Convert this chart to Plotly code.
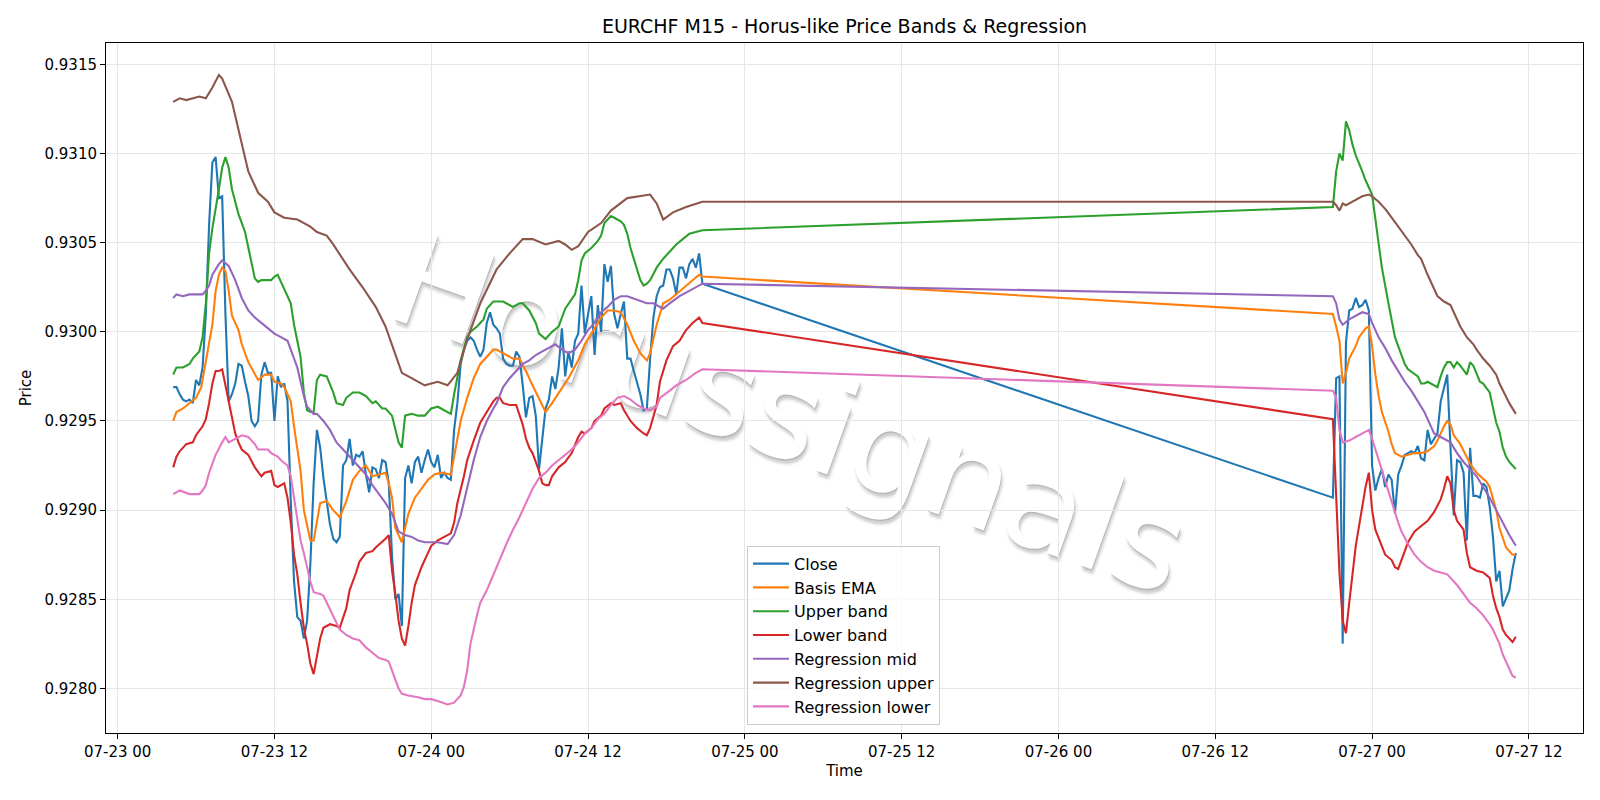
import pandas as pd
import plotly.graph_objects as go

BASE = pd.Timestamp("2025-07-23 00:00")

# Close, 15-minute bars: session 1 starts 07-23 04:15, session 2 starts 07-26 21:00
close_s1_start = "2025-07-23 04:15"
close_s1 = [
    .92969, .92969, .92965, .92962,
    .92961, .92962, .92960, .92973,
    .92970, .92980, .93010, .93060,
    .93095, .93098, .93075, .93076,
    .93010, .92961, .92965, .92971,
    .92982, .92981, .92972, .92964,
    .92950, .92947, .92950, .92976,
    .92983, .92977, .92977, .92950,
    .92975, .92969, .92971, .92961,
    .92905, .92860, .92840, .92838,
    .92828, .92838, .92870, .92915,
    .92945, .92935, .92918, .92905,
    .92892, .92884, .92882, .92885,
    .92925, .92928, .92940, .92925,
    .92931, .92930, .92933, .92920,
    .92910, .92924, .92923, .92918,
    .92928, .92927, .92915, .92874,
    .92850, .92853, .92835, .92918,
    .92925, .92915, .92927, .92930,
    .92921, .92928, .92934, .92927,
    .92924, .92931, .92918, .92921,
    .92918, .92917, .92945, .92960,
    .92982, .92990, .92995, .92997,
    .92995, .92990, .92986, .92990,
    .93005, .93011, .93004, .93002,
    .92999, .92985, .92982, .92981,
    .92981, .92989, .92986, .92970,
    .92952, .92963, .92964, .92953,
    .92923, .92940, .92957, .92962,
    .92975, .92968, .92980, .93002,
    .92975, .92989, .92980, .92995,
    .92999, .93026, .92999, .93010,
    .93020, .92987, .93015, .93000,
    .93038, .93028, .93037, .93010,
    .93002, .93010, .93017, .92985,
    .92985, .92978, .92972, .92965,
    .92956, .92957, .92985, .93008,
    .93020, .93025, .93026, .93035,
    .93035, .93030, .93021, .93036,
    .93036, .93030, .93038, .93041,
    .93036, .93044, .93027,
]
close_s2_start = "2025-07-26 21:00"
close_s2 = [
    .92907, .92974, .92975, .92825,
    .92994, .93012, .93013, .93019,
    .93014, .93015, .93018, .93012,
    .92925, .92911, .92918, .92923,
    .92913, .92920, .92917, .92898,
    .92920, .92925, .92931, .92932,
    .92933, .92932, .92936, .92929,
    .92928, .92945, .92937, .92940,
    .92943, .92961, .92968, .92976,
    .92935, .92897, .92928, .92927,
    .92921, .92883, .92935, .92908,
    .92908, .92907, .92915, .92913,
    .92902, .92885, .92860, .92866,
    .92846, .92851, .92855, .92867,
    .92876,
]

# (hours after 07-23 00:00, value)
basis_ema = [
    (4.25, .92950), (4.5, .92955), (5.0, .92957), (5.5, .92960), (6.0, .92963), (6.4, .92969),
    (6.75, .92983), (7.25, .93004), (7.5, .93023), (7.75, .93032), (8.0, .93036), (8.25, .93034),
    (8.5, .93023), (8.75, .93009), (9.25, .93001), (9.5, .92993), (10.0, .92983), (10.5, .92976),
    (10.75, .92973), (11.25, .92976), (11.75, .92976), (12.0, .92972), (12.5, .92971), (12.75, .92969),
    (13.25, .92961), (13.5, .92947), (14.0, .92922), (14.25, .92900), (14.75, .92883), (15.0, .92883),
    (15.25, .92893), (15.5, .92904), (16.0, .92905), (16.5, .92900), (17.0, .92896), (17.5, .92905),
    (18.0, .92917), (18.5, .92922), (19.0, .92925), (19.5, .92919), (20.0, .92920), (20.5, .92921),
    (20.75, .92915), (21.0, .92907), (21.25, .92890), (21.75, .92882), (22.0, .92890), (22.25, .92898),
    (22.75, .92907), (23.25, .92912), (23.75, .92917), (24.25, .92920), (24.75, .92921), (25.5, .92920),
    (25.75, .92930), (26.25, .92950), (26.75, .92963), (27.25, .92974), (27.75, .92982), (28.25, .92986),
    (28.75, .92990), (29.0, .92990), (29.75, .92987), (30.25, .92985), (30.75, .92985), (31.25, .92978),
    (31.75, .92970), (32.25, .92962), (32.75, .92955), (33.25, .92960), (34.0, .92968), (34.5, .92974),
    (35.25, .92984), (35.75, .92993), (36.25, .92999), (37.0, .93008), (37.5, .93012), (38.0, .93012),
    (38.5, .93011), (39.0, .93004), (39.5, .92995), (40.0, .92988), (40.5, .92984), (40.75, .92988),
    (41.25, .93004), (41.75, .93016), (42.25, .93018), (42.75, .93021), (43.25, .93024), (43.75, .93027),
    (44.25, .93030), (44.5, .93032), (44.75, .93031),
    (93.0, .93010), (93.25, .93003), (93.5, .92995), (93.75, .92971), (94.0, .92977), (94.25, .92985),
    (94.75, .92992), (95.0, .92997), (95.5, .93002), (95.75, .93003), (96.0, .92992), (96.25, .92976),
    (96.5, .92964), (96.75, .92955), (97.25, .92944), (97.5, .92937), (97.75, .92932), (98.25, .92930),
    (98.75, .92931), (99.25, .92932), (99.75, .92932), (100.25, .92933), (100.75, .92936), (101.0, .92939),
    (101.5, .92947), (101.75, .92950), (102.0, .92948), (102.25, .92942), (102.75, .92937), (103.25, .92929),
    (103.5, .92926), (104.0, .92921), (104.5, .92918), (104.75, .92916), (105.0, .92913), (105.5, .92900),
    (105.75, .92890), (106.25, .92879), (106.75, .92875), (107.0, .92875),
]

upper_band = [
    (4.25, .92976), (4.5, .92980), (5.0, .92980), (5.5, .92982), (5.75, .92985), (6.25, .92989),
    (6.5, .92997), (6.75, .93016), (7.0, .93044), (7.25, .93058), (7.75, .93080), (8.0, .93092),
    (8.25, .93098), (8.5, .93092), (8.75, .93080), (9.0, .93073), (9.25, .93066), (9.75, .93056),
    (10.0, .93047), (10.25, .93038), (10.5, .93030), (10.75, .93028), (11.0, .93029), (11.5, .93029),
    (11.75, .93029), (12.0, .93031), (12.25, .93032), (12.5, .93028), (12.75, .93024), (13.25, .93016),
    (13.5, .93004), (14.0, .92986), (14.25, .92966), (14.5, .92956), (14.75, .92955), (15.0, .92955),
    (15.25, .92973), (15.5, .92976), (16.0, .92975), (16.5, .92966), (16.75, .92960), (17.25, .92959),
    (17.5, .92963), (18.0, .92966), (18.5, .92966), (19.0, .92964), (19.5, .92960), (19.75, .92961),
    (20.25, .92957), (20.5, .92957), (21.0, .92953), (21.25, .92945), (21.5, .92938), (21.75, .92935),
    (22.0, .92953), (22.5, .92954), (23.0, .92953), (23.5, .92953), (24.0, .92957), (24.5, .92958),
    (25.0, .92956), (25.5, .92954), (25.75, .92965), (26.25, .92984), (26.75, .92997), (27.0, .93000),
    (27.5, .93003), (28.0, .93007), (28.25, .93013), (28.75, .93017), (29.5, .93017), (30.0, .93015),
    (30.25, .93014), (30.75, .93016), (31.0, .93016), (31.5, .93012), (32.0, .93005), (32.25, .92999),
    (32.75, .92996), (33.25, .93000), (33.75, .93003), (34.25, .93013), (34.75, .93018), (35.0, .93021),
    (35.25, .93029), (35.5, .93040), (35.75, .93044), (36.25, .93047), (36.75, .93051), (37.0, .93054),
    (37.25, .93061), (37.75, .93065), (38.0, .93064), (38.5, .93062), (38.75, .93060), (39.0, .93055),
    (39.25, .93047), (39.75, .93035), (40.0, .93029), (40.25, .93026), (40.5, .93027), (40.75, .93029),
    (41.25, .93036), (41.75, .93041), (42.25, .93045), (42.75, .93049), (43.25, .93052), (43.75, .93055),
    (44.25, .93056), (44.75, .93057),
    (93.0, .93070), (93.25, .93090), (93.5, .93100), (93.75, .93096), (94.0, .93118), (94.25, .93113),
    (94.5, .93105), (94.75, .93099), (95.25, .93090), (95.5, .93085), (96.0, .93077), (96.25, .93063),
    (96.5, .93048), (96.75, .93036), (97.25, .93016), (97.5, .93006), (97.75, .92997), (98.25, .92987),
    (98.5, .92982), (98.75, .92979), (99.25, .92976), (99.5, .92975), (99.75, .92971), (100.0, .92971),
    (100.25, .92972), (100.5, .92971), (100.75, .92970), (101.0, .92969), (101.25, .92975), (101.5, .92980),
    (101.75, .92983), (102.0, .92983), (102.25, .92980), (102.5, .92983), (102.75, .92981), (103.25, .92976),
    (103.5, .92983), (103.75, .92981), (104.25, .92972), (104.5, .92971), (105.0, .92966), (105.25, .92957),
    (105.5, .92949), (105.75, .92944), (106.0, .92935), (106.25, .92930), (106.5, .92927), (106.75, .92925),
    (107.0, .92923),
]

lower_band = [
    (4.25, .92924), (4.5, .92930), (4.75, .92933), (5.25, .92937), (5.75, .92938), (6.0, .92942),
    (6.5, .92947), (6.75, .92951), (7.0, .92960), (7.25, .92971), (7.5, .92978), (7.75, .92978),
    (8.0, .92979), (8.25, .92970), (8.5, .92962), (8.75, .92952), (9.0, .92943), (9.25, .92938),
    (9.5, .92934), (10.0, .92931), (10.25, .92927), (10.5, .92924), (11.0, .92919), (11.25, .92921),
    (11.75, .92922), (12.0, .92914), (12.25, .92913), (12.75, .92915), (13.0, .92907), (13.25, .92893),
    (13.5, .92875), (13.75, .92864), (14.0, .92848), (14.25, .92834), (14.5, .92825), (14.75, .92814),
    (15.0, .92808), (15.25, .92819), (15.5, .92828), (15.75, .92834), (16.25, .92836), (16.75, .92835),
    (17.0, .92834), (17.5, .92845), (17.75, .92855), (18.25, .92865), (18.5, .92871), (19.0, .92876),
    (19.5, .92877), (19.75, .92879), (20.25, .92882), (20.5, .92884), (20.75, .92886), (21.0, .92866),
    (21.25, .92853), (21.5, .92838), (21.75, .92828), (22.0, .92824), (22.25, .92835), (22.5, .92848),
    (22.75, .92858), (23.25, .92868), (23.75, .92876), (24.0, .92880), (24.5, .92883), (25.0, .92885),
    (25.5, .92887), (25.75, .92893), (26.0, .92904), (26.5, .92919), (26.75, .92928), (27.25, .92939),
    (27.75, .92949), (28.25, .92955), (28.75, .92961), (29.0, .92963), (29.25, .92963), (29.5, .92960),
    (30.0, .92959), (30.5, .92959), (30.75, .92953), (31.0, .92948), (31.25, .92940), (31.5, .92935),
    (31.75, .92932), (32.0, .92927), (32.25, .92922), (32.5, .92915), (32.75, .92914), (33.0, .92914),
    (33.25, .92919), (33.75, .92924), (34.25, .92927), (34.75, .92932), (35.25, .92941), (35.5, .92944),
    (35.75, .92943), (36.25, .92946), (36.5, .92950), (37.0, .92953), (37.25, .92957), (37.75, .92960),
    (38.0, .92959), (38.5, .92960), (38.75, .92956), (39.25, .92950), (39.75, .92946), (40.25, .92943),
    (40.5, .92942), (40.75, .92946), (41.25, .92959), (41.5, .92972), (42.0, .92984), (42.5, .92992),
    (43.0, .92995), (43.5, .93001), (44.0, .93005), (44.5, .93008), (44.75, .93005),
    (93.0, .92951), (93.25, .92912), (93.5, .92865), (93.75, .92838), (94.0, .92831), (94.25, .92848),
    (94.5, .92866), (94.75, .92880), (95.0, .92891), (95.25, .92902), (95.5, .92913), (95.75, .92921),
    (96.0, .92900), (96.25, .92889), (96.5, .92884), (96.75, .92879), (97.0, .92875), (97.5, .92872),
    (97.75, .92868), (98.0, .92867), (98.25, .92872), (98.5, .92878), (98.75, .92882), (99.25, .92888),
    (99.75, .92891), (100.25, .92894), (100.75, .92899), (101.25, .92906), (101.5, .92912), (101.75, .92919),
    (102.0, .92915), (102.25, .92900), (102.5, .92894), (103.0, .92889), (103.25, .92876), (103.5, .92868),
    (104.0, .92866), (104.5, .92865), (105.0, .92862), (105.25, .92852), (105.5, .92845), (105.75, .92840),
    (106.0, .92833), (106.25, .92830), (106.5, .92828), (106.75, .92826), (107.0, .92829),
]

regression_mid = [
    (4.25, .93019), (4.5, .93021), (5.0, .93020), (5.5, .93021), (6.0, .93021), (6.5, .93021),
    (6.75, .93023), (7.0, .93026), (7.25, .93032), (7.75, .93038), (8.0, .93040), (8.5, .93037),
    (9.0, .93029), (9.5, .93019), (10.0, .93012), (10.5, .93008), (11.0, .93005), (11.5, .93002),
    (12.0, .92999), (12.5, .92997), (13.0, .92995), (13.25, .92990), (13.75, .92980), (14.0, .92972),
    (14.25, .92964), (14.5, .92958), (15.0, .92954), (15.25, .92954), (15.75, .92950), (16.25, .92945),
    (16.75, .92938), (17.5, .92932), (18.0, .92928), (18.5, .92924), (19.0, .92920), (19.5, .92914),
    (20.0, .92909), (20.5, .92904), (21.0, .92898), (21.25, .92893), (21.5, .92888), (22.0, .92886),
    (22.5, .92885), (23.0, .92883), (23.5, .92882), (24.0, .92882), (24.5, .92882), (25.25, .92881),
    (25.75, .92886), (26.25, .92897), (26.75, .92912), (27.25, .92928), (27.75, .92941), (28.25, .92950),
    (28.75, .92957), (29.0, .92960), (29.5, .92969), (30.0, .92974), (30.5, .92978), (31.0, .92982),
    (31.5, .92984), (32.0, .92987), (32.5, .92989), (33.0, .92991), (33.5, .92993), (34.0, .92990),
    (34.5, .92988), (35.0, .92990), (35.5, .92995), (36.0, .93001), (36.5, .93005), (37.0, .93011),
    (37.5, .93014), (38.0, .93018), (38.5, .93020), (39.0, .93020), (39.75, .93018), (40.5, .93016),
    (41.0, .93016), (41.5, .93014), (41.75, .93013), (42.25, .93016), (43.0, .93020), (43.75, .93023),
    (44.25, .93025), (44.75, .93027),
    (93.0, .93020), (93.25, .93016), (93.5, .93007), (93.75, .93004), (94.25, .93007), (94.75, .93009),
    (95.25, .93011), (95.75, .93010), (96.0, .93005), (96.5, .92997), (97.0, .92991), (97.5, .92984),
    (98.0, .92978), (98.5, .92972), (99.0, .92967), (99.5, .92961), (100.0, .92955), (100.5, .92947),
    (100.75, .92943), (101.25, .92941), (101.75, .92939), (102.0, .92938), (102.5, .92932), (103.0, .92927),
    (103.5, .92923), (104.0, .92919), (104.5, .92913), (105.0, .92907), (105.5, .92900), (106.0, .92893),
    (106.5, .92886), (107.0, .92880),
]

regression_upper = [
    (4.25, .93129), (4.75, .93131), (5.25, .93130), (6.25, .93132), (6.75, .93131), (7.25, .93137),
    (7.75, .93144), (8.0, .93142), (8.75, .93129), (9.5, .93106), (10.0, .93090), (10.75, .93078),
    (11.5, .93073), (12.0, .93067), (12.75, .93064), (13.75, .93063), (14.75, .93059), (15.25, .93056),
    (16.0, .93054), (16.5, .93049), (17.75, .93035), (18.75, .93025), (19.75, .93014), (20.5, .93003),
    (21.25, .92988), (21.75, .92977), (22.25, .92975), (23.5, .92970), (24.0, .92971), (24.5, .92972),
    (25.25, .92970), (26.0, .92977), (26.75, .92996), (27.75, .93016), (29.0, .93035), (30.0, .93044),
    (31.0, .93052), (31.75, .93052), (32.75, .93049), (33.75, .93051), (34.25, .93049), (34.75, .93046),
    (35.25, .93048), (36.0, .93056), (37.0, .93061), (37.75, .93068), (39.0, .93075), (40.0, .93076),
    (40.75, .93077), (41.25, .93072), (41.75, .93063), (42.5, .93067), (43.5, .93070), (44.75, .93073),
    (93.0, .93073), (93.25, .93071), (93.5, .93068), (93.75, .93072), (94.0, .93071), (94.5, .93073),
    (95.0, .93075), (95.25, .93076), (95.75, .93077), (96.0, .93076), (96.5, .93073), (97.0, .93069),
    (97.5, .93064), (98.0, .93059), (98.5, .93054), (99.0, .93049), (99.5, .93043), (99.75, .93041),
    (100.25, .93032), (100.75, .93024), (101.0, .93020), (101.5, .93017), (102.0, .93015), (102.25, .93011),
    (102.75, .93003), (103.25, .92997), (103.75, .92993), (104.0, .92990), (104.5, .92985), (105.0, .92981),
    (105.5, .92976), (105.75, .92971), (106.25, .92964), (106.5, .92960), (107.0, .92954),
]

regression_lower = [
    (4.25, .92909), (4.75, .92911), (5.5, .92909), (6.25, .92909), (6.5, .92911), (6.75, .92914),
    (7.0, .92921), (7.5, .92931), (8.0, .92938), (8.25, .92941), (8.5, .92938), (8.75, .92939),
    (9.25, .92941), (9.5, .92942), (10.0, .92941), (10.5, .92937), (10.75, .92934), (11.5, .92934),
    (11.75, .92932), (12.25, .92930), (12.5, .92928), (13.0, .92925), (13.25, .92919), (13.5, .92906),
    (13.75, .92895), (14.0, .92883), (14.25, .92876), (14.5, .92868), (14.75, .92860), (15.0, .92854),
    (15.5, .92853), (15.75, .92852), (16.0, .92848), (16.25, .92844), (16.75, .92837), (17.0, .92833),
    (17.5, .92830), (18.0, .92828), (18.5, .92827), (19.0, .92823), (19.5, .92820), (20.0, .92817),
    (20.5, .92816), (20.75, .92815), (21.0, .92810), (21.25, .92805), (21.5, .92800), (21.75, .92797),
    (22.25, .92796), (23.0, .92795), (23.5, .92794), (24.0, .92794), (24.5, .92793), (25.25, .92791),
    (25.75, .92792), (26.25, .92796), (26.5, .92801), (26.75, .92810), (27.0, .92825), (27.5, .92841),
    (27.75, .92848), (28.25, .92855), (28.75, .92864), (29.25, .92873), (29.75, .92881), (30.25, .92889),
    (30.75, .92896), (31.25, .92904), (31.75, .92912), (32.25, .92918), (32.75, .92921), (33.25, .92925),
    (33.75, .92928), (34.25, .92931), (34.75, .92934), (35.25, .92938), (35.75, .92943), (36.25, .92946),
    (36.75, .92951), (37.25, .92954), (37.75, .92959), (38.25, .92963), (38.75, .92964), (39.25, .92962),
    (39.75, .92959), (40.25, .92957), (40.75, .92956), (41.25, .92958), (41.5, .92963), (42.25, .92967),
    (42.75, .92970), (43.5, .92973), (44.25, .92977), (44.75, .92979),
    (93.0, .92967), (93.25, .92963), (93.5, .92945), (93.75, .92938), (94.25, .92939), (94.75, .92941),
    (95.25, .92943), (95.75, .92945), (96.0, .92940), (96.25, .92934), (96.75, .92922), (97.25, .92911),
    (97.5, .92905), (98.0, .92893), (98.25, .92888), (98.75, .92881), (99.25, .92875), (99.75, .92871),
    (100.25, .92868), (100.75, .92866), (101.25, .92865), (101.75, .92864), (102.0, .92862), (102.5, .92858),
    (103.0, .92853), (103.5, .92848), (104.0, .92845), (104.5, .92841), (105.0, .92836), (105.25, .92833),
    (105.75, .92825), (106.0, .92819), (106.5, .92811), (106.75, .92807), (107.0, .92806),
]

series_names = ["Close", "Basis EMA", "Upper band", "Lower band",
                "Regression mid", "Regression upper", "Regression lower"]
colors = ["#1f77b4", "#ff7f0e", "#2ca02c", "#d62728", "#9467bd", "#8c564b", "#e377c2"]


def to_time(pairs):
    return [BASE + pd.Timedelta(hours=h) for h, _ in pairs], [v for _, v in pairs]


close_x = list(pd.date_range(close_s1_start, periods=len(close_s1), freq="15min")) + \
          list(pd.date_range(close_s2_start, periods=len(close_s2), freq="15min"))
close_y = close_s1 + close_s2

data = [(close_x, close_y)] + [to_time(s) for s in
                               (basis_ema, upper_band, lower_band, regression_mid,
                                regression_upper, regression_lower)]

fig = go.Figure()
for i, ((xs, ys), name, col) in enumerate(zip(data, series_names, colors)):
    fig.add_trace(go.Scatter(x=xs, y=ys, mode="lines", name=name, legendgroup=name,
                             line=dict(color=col, width=2.1)))

FONT = "DejaVu Sans"
axis_common = dict(showgrid=True, gridcolor="#e6e6e6", gridwidth=1, showline=True,
                   linecolor="black", linewidth=1, mirror=True, ticks="outside",
                   ticklen=5, tickwidth=1, tickcolor="black", zeroline=False,
                   tickfont=dict(family=FONT, size=15, color="black"))

fig.update_layout(
    width=1600, height=800,
    margin=dict(l=106, r=17, t=43, b=67, autoexpand=False),
    paper_bgcolor="white", plot_bgcolor="white",
    font=dict(family=FONT, size=15, color="black"),
    title=dict(text="EURCHF M15 - Horus-like Price Bands & Regression", x=0.5, xref="paper",
               xanchor="center", y=1 - 26 / 800, yref="container", yanchor="middle",
               font=dict(family=FONT, size=19, color="black")),
    xaxis=dict(type="date", range=[BASE + pd.Timedelta(hours=-0.89), BASE + pd.Timedelta(hours=112.14)],
               tick0=BASE, dtick=12 * 3600 * 1000, tickformat="%m-%d %H",
               title=dict(text="Time", font=dict(family=FONT, size=15), standoff=5),
               **axis_common),
    yaxis=dict(range=[0.92775, 0.93162], tick0=0.928, dtick=0.0005, tickformat=".4f",
               title=dict(text="Price", font=dict(family=FONT, size=15), standoff=9),
               **axis_common),
    legend=dict(x=0.434, y=0.012, xanchor="left", yanchor="bottom",
                bgcolor="rgba(255,255,255,0.8)", bordercolor="#cccccc", borderwidth=1,
                font=dict(family=FONT, size=16, color="black"), tracegroupgap=0,
                itemwidth=36),
    showlegend=True,
)

wm_font = dict(family=FONT, size=130, color="white")
shape_kw = dict(type="line", xref="paper", yref="paper", x0=0.27, y0=0.625, x1=0.66, y1=0.326,
                line=dict(color="rgba(0,0,0,0)", width=0), layer="below")
try:
    fig.add_shape(**shape_kw, label=dict(text="Horussignals", textposition="middle", yanchor="middle",
                                         font=dict(**wm_font,
                                                   shadow="1px 1px 0px rgba(150,150,150,0.45), 3px 4px 3px rgba(90,90,90,0.3)")))
except Exception:
    fig.add_shape(**shape_kw, label=dict(text="Horussignals", textposition="middle", yanchor="middle",
                                         font=dict(family=FONT, size=130, color="rgba(200,200,200,0.6)")))

fig.write_html("out.html")
